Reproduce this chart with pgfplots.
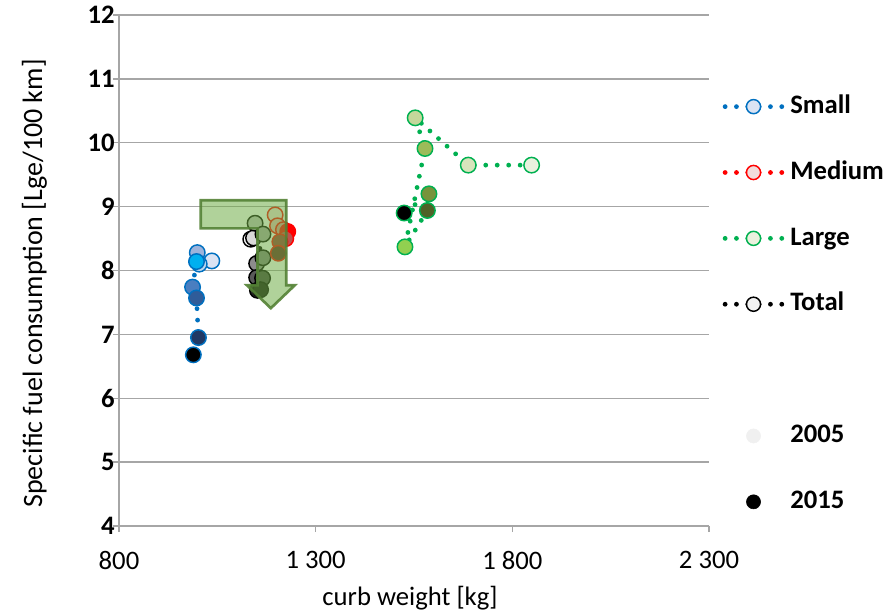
\documentclass[border=0pt]{standalone}
\usepackage{pgfplots}
\pgfplotsset{compat=1.18}
\usepackage{fontspec}
\setmainfont{Carlito}
\definecolor{axgray}{RGB}{166,166,166}
\definecolor{gridgray}{RGB}{166,166,166}
\definecolor{sB}{RGB}{0,112,192}
\definecolor{mR}{RGB}{255,0,0}
\definecolor{lG}{RGB}{0,176,80}
\definecolor{yr05}{RGB}{240,240,240}
\definecolor{arrowfill}{RGB}{112,173,71}
\definecolor{arrowdraw}{RGB}{84,130,53}
\pgfplotsset{
 serleg/.style={legend image code/.code={\draw[mark repeat=2,mark phase=2,##1] plot coordinates {(0pt,0pt) (21.3pt,0pt) (42.6pt,0pt)};}},
 dotline/.style={line width=3.6pt, line cap=round, dash pattern=on 0pt off 8.6pt},
 legdots/.style={line width=3.6pt, line cap=round, dash pattern=on 0pt off 8.5pt},
 pts/.style={only marks, scatter, mark=*, mark size=5.8pt, line width=1.1pt, scatter src=explicit symbolic, forget plot},
}
\begin{document}
\begin{tikzpicture}
\useasboundingbox (-89.25pt,-66.75pt) rectangle (579pt,394.5pt);
\begin{axis}[
 at={(0pt,0pt)}, anchor=south west,
 scale only axis, width=442.5pt, height=383.25pt,
 xmin=800, xmax=2300, ymin=4, ymax=12,
 xtick={800,1300,1800,2300}, xticklabels={800,1 300,1 800,2 300},
 ytick={4,5,6,7,8,9,10,11,12},
 axis lines*=left,
 axis line style={draw=axgray, line width=1.1pt},
 tick align=outside, major tick length=4.5pt,
 tick style={draw=axgray, line width=1.1pt},
 ymajorgrids, grid style={draw=gridgray, line width=1.1pt},
 /pgf/number format/assume math mode=true,
 yticklabel style={font=\fontsize{20}{20}\selectfont\bfseries, inner xsep=0pt, xshift=1.5pt},
 xticklabel style={font=\fontsize{20}{20}\selectfont, yshift=-11pt},
 xlabel={curb weight [kg]},
 ylabel={Specific fuel consumption [Lge/100 km]},
 xlabel style={font=\fontsize{20}{20}\selectfont, xshift=-3pt, yshift=-5.5pt},
 ylabel style={font=\fontsize{21}{21}\selectfont, xshift=-9.75pt, yshift=27pt},
 clip=false, clip marker paths=true,
 legend cell align=left,
 legend style={draw=none, fill=none, at={(rel axis cs:1.016,0.434)}, anchor=west,
   row sep=29.4pt, column sep=4.5pt, font=\fontsize{20}{20}\selectfont\bfseries,
   nodes={inner sep=0pt, text height=15pt, text depth=5pt}},
]
% ---- dotted connecting lines ----
\addplot[forget plot, dotline, color=sB] table {
x y
1036 8.15
999 8.28
1004 8.10
997 8.14
987 7.74
997 7.57
1002 6.95
989 6.68
};
\addplot[forget plot, dotline, color=lG] table {
x y
1849 9.65
1688 9.65
1553 10.39
1578 9.91
1527 8.37
1584 8.94
1588 9.20
1525 8.90
};
\addplot[forget plot, dotline, color=black] table {
x y
1135 8.49
1142 8.51
1146 8.74
1166 8.57
1150 8.11
1166 8.20
1150 7.89
1165 7.88
1152 7.69
1160 7.70
};
\addplot[forget plot, dotline, color=mR] table {
x y
1197 8.87
1203 8.70
1218 8.64
1229 8.61
1224 8.50
1209 8.45
1205 8.27
};
% ---- markers ----
\addplot[pts, scatter/classes={
 a={mark=*, draw=sB, fill={rgb,255:red,218;green,227;blue,243}},
 b={mark=*, draw=sB, fill={rgb,255:red,157;green,179;blue,219}},
 c={mark=*, draw=sB, fill={rgb,255:red,189;green,215;blue,238}},
 d={mark=*, draw=sB, fill={rgb,255:red,0;green,176;blue,240}},
 e={mark=*, draw=sB, fill={rgb,255:red,74;green,126;blue,192}},
 f={mark=*, draw=sB, fill={rgb,255:red,47;green,92;blue,153}},
 g={mark=*, draw=sB, fill={rgb,255:red,32;green,56;blue,100}},
 h={mark=*, draw=sB, fill=black}}] table[meta=c] {
x y c
1036 8.15 a
999 8.28 b
1004 8.10 c
997 8.14 d
987 7.74 e
997 7.57 f
1002 6.95 g
989 6.68 h
};
\addplot[pts, scatter/classes={
 a={mark=*, draw=lG, fill={rgb,255:red,235;green,241;blue,222}},
 b={mark=*, draw=lG, fill={rgb,255:red,216;green,228;blue,188}},
 c={mark=*, draw=lG, fill={rgb,255:red,196;green,215;blue,155}},
 d={mark=*, draw=lG, fill={rgb,255:red,155;green,187;blue,89}},
 e={mark=*, draw=lG, fill={rgb,255:red,146;green,208;blue,80}},
 f={mark=*, draw=lG, fill={rgb,255:red,79;green,98;blue,40}},
 g={mark=*, draw=lG, fill={rgb,255:red,119;green,147;blue,60}},
 h={mark=*, draw=lG, fill=black}}] table[meta=c] {
x y c
1849 9.65 a
1688 9.65 b
1553 10.39 c
1578 9.91 d
1527 8.37 e
1588 9.20 g
1584 8.94 f
1525 8.90 h
};
\addplot[pts, scatter/classes={
 a={mark=*, draw=black, fill=white},
 b={mark=*, draw=black, fill={rgb,255:red,217;green,217;blue,217}},
 c={mark=*, draw=black, fill={rgb,255:red,191;green,191;blue,191}},
 d={mark=*, draw=black, fill={rgb,255:red,166;green,166;blue,166}},
 e={mark=*, draw=black, fill={rgb,255:red,140;green,140;blue,140}},
 f={mark=*, draw=black, fill={rgb,255:red,127;green,127;blue,127}},
 g={mark=*, draw=black, fill={rgb,255:red,89;green,89;blue,89}},
 h={mark=*, draw=black, fill={rgb,255:red,64;green,64;blue,64}},
 i={mark=*, draw=black, fill={rgb,255:red,38;green,38;blue,38}},
 j={mark=*, draw=black, fill={rgb,255:red,13;green,13;blue,13}}}] table[meta=c] {
x y c
1135 8.49 a
1142 8.51 b
1146 8.74 c
1166 8.57 d
1150 8.11 e
1166 8.20 f
1150 7.89 g
1165 7.88 h
1152 7.69 i
1160 7.70 j
};
\addplot[pts, scatter/classes={
 a={mark=*, draw=mR, fill={rgb,255:red,242;green,220;blue,219}},
 b={mark=*, draw=mR, fill={rgb,255:red,230;green,185;blue,184}},
 c={mark=*, draw=mR, fill={rgb,255:red,218;green,150;blue,148}},
 d={mark=*, draw=mR, fill=mR},
 e={mark=*, draw=mR, fill={rgb,255:red,192;green,80;blue,77}},
 f={mark=*, draw=mR, fill={rgb,255:red,150;green,54;blue,52}},
 g={mark=*, draw=mR, fill={rgb,255:red,99;green,37;blue,35}}}] table[meta=c] {
x y c
1197 8.87 a
1203 8.70 b
1218 8.64 c
1229 8.61 d
1224 8.50 e
1209 8.45 f
1205 8.27 g
};
% ---- arrow annotation ----
\filldraw[fill=arrowfill, fill opacity=0.55, draw=arrowdraw, draw opacity=0.9, line width=2pt, line join=miter]
 (axis cs:1008,9.10) -- (axis cs:1225,9.10) -- (axis cs:1225,7.77) -- (axis cs:1247,7.77)
 -- (axis cs:1186,7.41) -- (axis cs:1125,7.77) -- (axis cs:1152,7.77) -- (axis cs:1152,8.66)
 -- (axis cs:1008,8.66) -- cycle;
% ---- legend ----
\addlegendimage{serleg, legdots, color=sB, mark=*, mark size=5.3pt, mark options={solid, line width=1.1pt, draw=sB, fill={rgb,255:red,218;green,227;blue,243}}}
\addlegendentry{Small}
\addlegendimage{serleg, legdots, color=mR, mark=*, mark size=5.3pt, mark options={solid, line width=1.1pt, draw=mR, fill={rgb,255:red,242;green,220;blue,219}}}
\addlegendentry{Medium}
\addlegendimage{serleg, legdots, color=lG, mark=*, mark size=5.3pt, mark options={solid, line width=1.1pt, draw=lG, fill={rgb,255:red,235;green,241;blue,222}}}
\addlegendentry{Large}
\addlegendimage{serleg, legdots, color=black, mark=*, mark size=5.3pt, mark options={solid, line width=1.1pt, draw=black, fill={rgb,255:red,242;green,242;blue,242}}}
\addlegendentry{Total}
\addlegendimage{empty legend}
\addlegendentry{}
\addlegendimage{serleg, only marks, color=yr05, mark=*, mark size=5.3pt, mark options={draw=yr05, fill=yr05}}
\addlegendentry{\fontsize{20}{20}\selectfont 2005}
\addlegendimage{serleg, only marks, color=black, mark=*, mark size=5.3pt, mark options={draw=black, fill=black}}
\addlegendentry{\fontsize{20}{20}\selectfont 2015}
\end{axis}
\end{tikzpicture}
\end{document}
